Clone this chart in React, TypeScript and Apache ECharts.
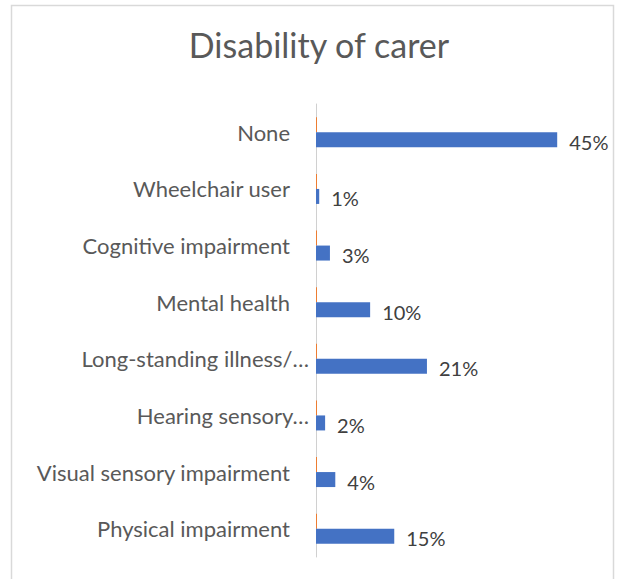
import React, { useEffect, useRef } from "react";
import * as echarts from "echarts";

const categories = [
  "None",
  "Wheelchair user",
  "Cognitive impairment",
  "Mental health",
  "Long-standing illness/…",
  "Hearing sensory…",
  "Visual sensory impairment",
  "Physical impairment",
];
const carerValues = [45.0, 0.6, 2.6, 10.1, 20.7, 1.7, 3.6, 14.6];
const otherValues = [0, 0, 0, 0, 0, 0, 0, 0];
const xTicks = { min: 0, max: 50 };

export default function App() {
  const ref = useRef<HTMLDivElement>(null);
  useEffect(() => {
    if (!ref.current) return;
    const chart = echarts.init(ref.current, null, { renderer: "svg" });
    const font = "Lato, 'Open Sans', sans-serif";
    chart.setOption({
      animation: false,
      backgroundColor: "#ffffff",
      title: {
        text: "Disability of carer",
        left: 314,
        top: 22,
        textAlign: "center",
        textStyle: { fontFamily: font, fontSize: 34, fontWeight: "normal", color: "#595959" },
      },
      graphic: [
        {
          type: "rect",
          shape: { x: 11.5, y: 5.5, width: 602, height: 620 },
          style: { fill: "none", stroke: "#d9d9d9", lineWidth: 1.5 },
          silent: true,
        },
      ],
      grid: { left: 316, top: 104, width: 268, height: 453, containLabel: false },
      xAxis: {
        type: "value",
        min: xTicks.min,
        max: xTicks.max,
        show: false,
        splitLine: { show: false },
      },
      yAxis: {
        type: "category",
        data: categories,
        inverse: true,
        axisLine: { show: true, lineStyle: { color: "#d0d0d0", width: 1 } },
        axisTick: { show: false },
        axisLabel: {
          margin: 7,
          fontFamily: font,
          fontSize: 22,
          color: "#595959",
          formatter: (v: string) => (v.endsWith("…") ? `{e|${v}}` : `{n|${v}}`),
          rich: {
            e: { fontFamily: font, fontSize: 22, color: "#595959" },
            n: { fontFamily: font, fontSize: 22, color: "#595959", padding: [0, 19, 0, 0] },
          },
        },
      },
      series: [
        {
          type: "bar",
          name: "Other",
          data: otherValues,
          barWidth: 15,
          barGap: "0%",
          barMinHeight: 1,
          itemStyle: { color: "#ED7D31" },
        },
        {
          type: "bar",
          name: "Carer",
          data: carerValues,
          barWidth: 15,
          barGap: "0%",
          itemStyle: { color: "#4472C4" },
          label: {
            show: true,
            position: "right",
            distance: 12,
            offset: [0, 2],
            fontFamily: font,
            fontSize: 20,
            color: "#404040",
            formatter: (p: any) => `${Math.round(p.value)}%`,
          },
        },
      ],
    });
    return () => chart.dispose();
  }, []);
  return (
    <div
      ref={ref}
      style={{ position: "absolute", left: 0, top: 0, width: 619, height: 579 }}
    />
  );
}
